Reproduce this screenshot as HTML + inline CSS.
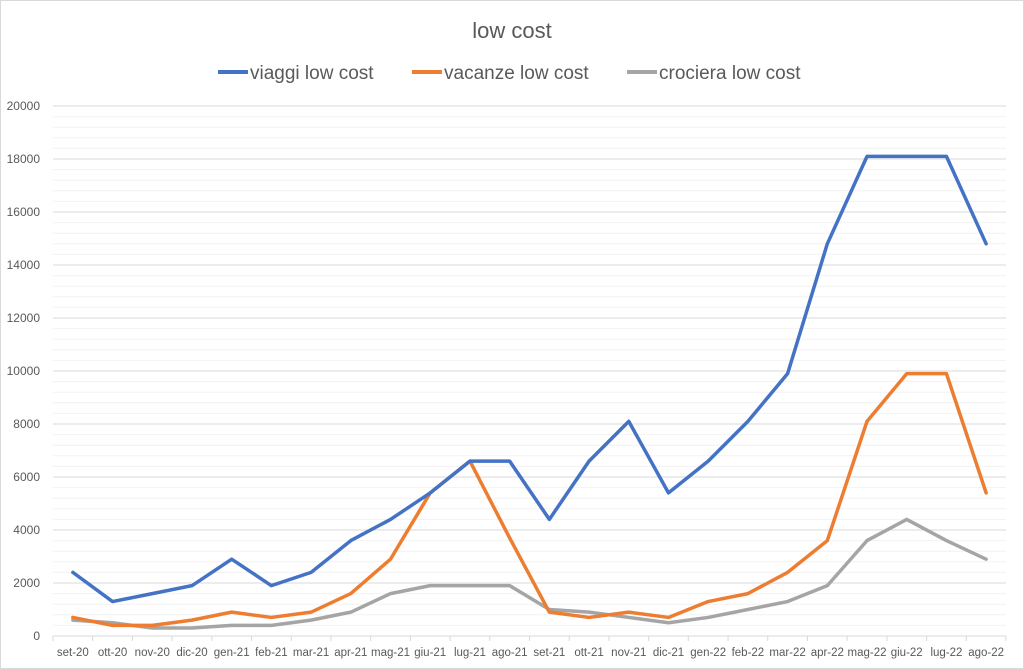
<!DOCTYPE html>
<html><head><meta charset="utf-8"><style>
html,body{margin:0;padding:0;background:#fff;}
svg{display:block;font-family:"Liberation Sans",sans-serif;}
</style></head><body>
<svg id="chart" width="1024" height="669">
<rect x="0.5" y="0.5" width="1023" height="668" fill="#fff" stroke="#d9d9d9"/>
<text x="512" y="38" text-anchor="middle" font-size="22" fill="#595959">low cost</text>
<g id="grid"></g><g id="axes"></g><g id="series"></g><g id="legend"></g>
</svg>
<script>
const categories=["set-20","ott-20","nov-20","dic-20","gen-21","feb-21","mar-21","apr-21","mag-21","giu-21","lug-21","ago-21","set-21","ott-21","nov-21","dic-21","gen-22","feb-22","mar-22","apr-22","mag-22","giu-22","lug-22","ago-22"];
const viaggi=[2400,1300,1600,1900,2900,1900,2400,3600,4400,5400,6600,6600,4400,6600,8100,5400,6600,8100,9900,14800,18100,18100,18100,14800];
const vacanze=[700,400,400,600,900,700,900,1600,2900,5400,6600,3700,900,700,900,700,1300,1600,2400,3600,8100,9900,9900,5400];
const crociera=[600,500,300,300,400,400,600,900,1600,1900,1900,1900,1000,900,700,500,700,1000,1300,1900,3600,4400,3600,2900];
const yTicks=[0,2000,4000,6000,8000,10000,12000,14000,16000,18000,20000];
const seriesNames=["viaggi low cost","vacanze low cost","crociera low cost"];
const NS="http://www.w3.org/2000/svg";
const X0=53,X1=1006,Y0=636,Y1=106,YMAX=20000;
const bw=(X1-X0)/categories.length;
const xs=i=>X0+bw*(i+0.5);
const ys=v=>Y0-(v/YMAX)*(Y0-Y1);
function mk(tag,attrs,parent){const e=document.createElementNS(NS,tag);for(const k in attrs)e.setAttribute(k,attrs[k]);parent.appendChild(e);return e;}
const grid=document.getElementById('grid'),axes=document.getElementById('axes'),ser=document.getElementById('series'),leg=document.getElementById('legend');
for(let v=400;v<=YMAX;v+=400){if(v%2000===0)continue;const l=mk('line',{x1:X0,x2:X1,y1:ys(v),y2:ys(v),stroke:'#f2f2f2','stroke-width':1},grid);

}
yTicks.forEach(v=>{if(v>0){const l=mk('line',{x1:X0,x2:X1,y1:ys(v),y2:ys(v),stroke:'#d9d9d9','stroke-width':1},grid);

}
const t=mk('text',{x:40,y:ys(v)+4,'text-anchor':'end','font-size':12,fill:'#595959'},axes);t.textContent=v;

});
const ax=mk('line',{x1:X0,x2:X1,y1:Y0,y2:Y0,stroke:'#d9d9d9','stroke-width':1},axes);


for(let i=0;i<=categories.length;i++){const tk=mk('line',{x1:X0+bw*i,x2:X0+bw*i,y1:Y0,y2:Y0+5,stroke:'#d9d9d9'},axes);

}
categories.forEach((c,i)=>{const t=mk('text',{x:xs(i),y:656,'text-anchor':'middle','font-size':11.5,fill:'#595959'},axes);t.textContent=c;

});
const colors=['#4472c4','#ed7d31','#a5a5a5'];
const data=[viaggi,vacanze,crociera];
[2,1,0].forEach(k=>{const p=mk('polyline',{points:data[k].map((v,i)=>xs(i)+','+ys(v)).join(' '),fill:'none',stroke:colors[k],'stroke-width':3.5,'stroke-linejoin':'round','stroke-linecap':'round'},ser);

});
const lx=[218,412,627];
seriesNames.forEach((n,k)=>{const g=mk('g',{},leg);


mk('line',{x1:lx[k],x2:lx[k]+30,y1:72,y2:72,stroke:colors[k],'stroke-width':4},g);
const t=mk('text',{x:lx[k]+32,y:79,'font-size':19,fill:'#595959'},g);t.textContent=n;});
</script>
</body></html>
